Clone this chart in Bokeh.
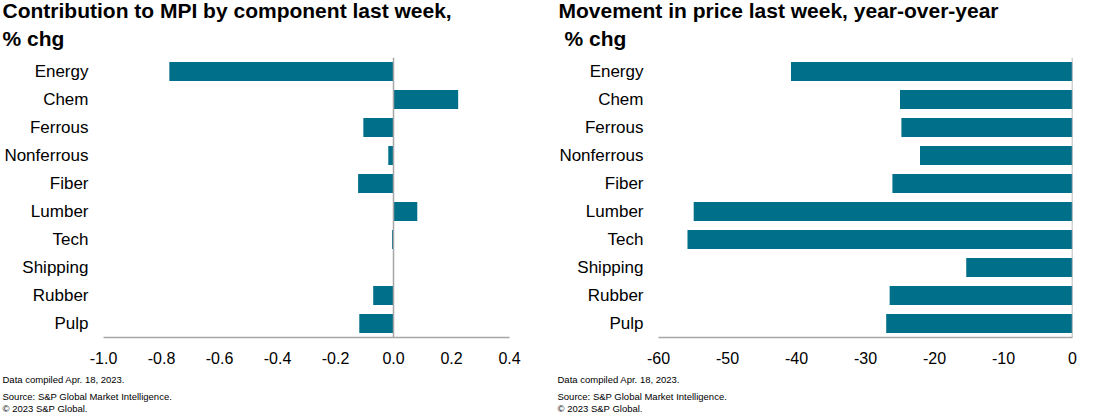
from bokeh.plotting import figure
from bokeh.layouts import row
from bokeh.models import FactorRange, Range1d, FixedTicker, NumeralTickFormatter, Span, Title
from bokeh.embed import file_html
from bokeh.resources import INLINE

categories = ["Energy", "Chem", "Ferrous", "Nonferrous", "Fiber", "Lumber", "Tech", "Shipping", "Rubber", "Pulp"]
contribution = [-0.773, 0.223, -0.104, -0.018, -0.122, 0.082, -0.005, 0.0, -0.070, -0.118]
yoy_change = [-40.8, -25.0, -24.8, -22.1, -26.1, -54.9, -55.8, -15.4, -26.5, -27.0]
left_ticks = [-1.0, -0.8, -0.6, -0.4, -0.2, 0.0, 0.2, 0.4]
right_ticks = [-60, -50, -40, -30, -20, -10, 0]

left_title = ["Contribution to MPI by component last week,", "% chg"]
right_title = ["Movement in price last week, year-over-year", "% chg"]
footnotes = ["Data compiled Apr. 18, 2023.", "Source: S&P Global Market Intelligence.", "\u00a9 2023 S&P Global."]

BAR = "#006F8A"
AXIS = "#A6A6A6"
FONT = "Liberation Sans"


def make_panel(values, xr, ticks, fmt, width, border_left, border_right, title, title_off, sub_off, foot_off):
    p = figure(width=width, height=418, output_backend="svg", toolbar_location=None,
               y_range=FactorRange(factors=list(reversed(categories)), range_padding=0),
               x_range=Range1d(*xr),
               min_border_left=border_left, min_border_right=border_right,
               min_border_top=57, min_border_bottom=81)
    p.hbar(y=categories, left=0, right=values, height=0.68, color=BAR, line_color=None)
    p.add_layout(Span(location=0, dimension="height", line_color=AXIS, line_width=1.5))
    p.outline_line_color = None
    p.xgrid.visible = False
    p.ygrid.visible = False
    p.background_fill_color = "white"
    p.border_fill_color = "white"

    xa = p.xaxis[0]
    xa.ticker = FixedTicker(ticks=ticks)
    xa.formatter = NumeralTickFormatter(format=fmt)
    xa.axis_line_color = AXIS
    xa.axis_line_width = 1.5
    xa.major_tick_line_color = None
    xa.minor_tick_line_color = None
    xa.major_tick_out = 0
    xa.major_tick_in = 0
    xa.minor_tick_out = 0
    xa.major_label_text_font = FONT
    xa.major_label_text_font_size = "16px"
    xa.major_label_text_color = "#000000"
    xa.major_label_standoff = 14

    ya = p.yaxis[0]
    ya.axis_line_color = None
    ya.major_tick_line_color = None
    ya.minor_tick_line_color = None
    ya.major_tick_out = 0
    ya.major_tick_in = 0
    ya.minor_tick_out = 0
    ya.major_label_text_font = FONT
    ya.major_label_text_font_size = "17px"
    ya.major_label_text_color = "#000000"
    ya.major_label_standoff = 15

    # titles: the one added first sits closest to the plot frame
    p.add_layout(Title(text=title[1], align="left", offset=sub_off, standoff=15,
                       text_font=FONT, text_font_size="21px", text_font_style="bold",
                       text_color="#000000"), "above")
    p.add_layout(Title(text=title[0], align="left", offset=title_off, standoff=-8,
                       text_font=FONT, text_font_size="21px", text_font_style="bold",
                       text_color="#000000"), "above")
    for t, s in zip(footnotes, [11, -3, 0]):
        p.add_layout(Title(text=t, align="left", offset=foot_off, standoff=s,
                           text_font=FONT, text_font_size="9.5px", text_font_style="normal",
                           text_color="#000000"), "below")
    return p


p1 = make_panel(contribution, (-1.0, 0.4), left_ticks, "0.0", 555, 103, 46, left_title, -101, -101, -101)
p2 = make_panel(yoy_change, (-60, 0), right_ticks, "0", 559, 103, 42, right_title, -100, -94, -101)

layout = row(p1, p2)
open("out.html", "w").write(file_html(layout, INLINE))
